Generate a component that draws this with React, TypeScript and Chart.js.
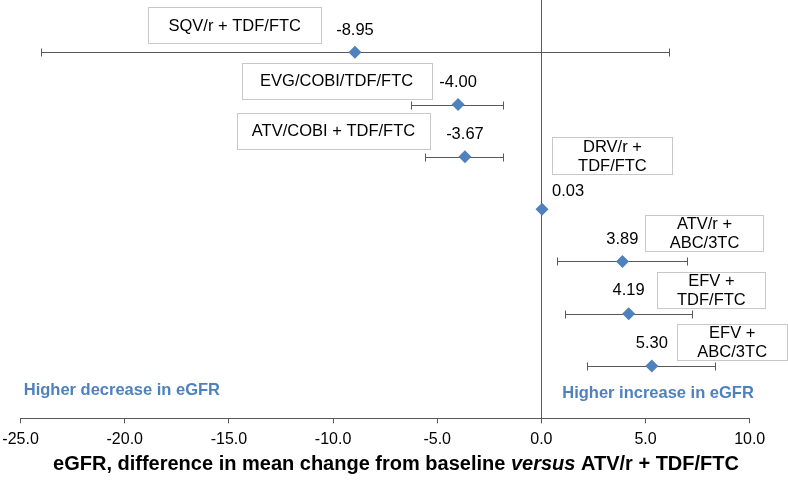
import { useEffect, useRef } from "react";
import { Chart, registerables } from "chart.js";

Chart.register(...registerables);

// ---------- data ----------
const regimens = [
  "SQV/r + TDF/FTC",
  "EVG/COBI/TDF/FTC",
  "ATV/COBI + TDF/FTC",
  "DRV/r + TDF/FTC",
  "ATV/r + ABC/3TC",
  "EFV + TDF/FTC",
  "EFV + ABC/3TC",
];
const regimenBoxLines = [
  ["SQV/r + TDF/FTC"],
  ["EVG/COBI/TDF/FTC"],
  ["ATV/COBI + TDF/FTC"],
  ["DRV/r +", "TDF/FTC"],
  ["ATV/r +", "ABC/3TC"],
  ["EFV +", "TDF/FTC"],
  ["EFV +", "ABC/3TC"],
];
const estimates = [-8.95, -4.0, -3.67, 0.03, 3.89, 4.19, 5.3];
const ciLower: (number | null)[] = [-24.0, -6.24, -5.6, null, 0.75, 1.12, 2.2];
const ciUpper: (number | null)[] = [6.13, -1.82, -1.82, null, 6.99, 7.23, 8.35];
const rowPositions = [7, 6, 5, 4, 3, 2, 1];
const xMin = -25;
const xMax = 10;
const xStep = 5;
const xTitleParts = [
  { text: "eGFR, difference in mean change from baseline ", italic: false },
  { text: "versus", italic: true },
  { text: " ATV/r + TDF/FTC", italic: false },
];
const leftNote = "Higher decrease in eGFR";
const rightNote = "Higher increase in eGFR";

// ---------- layout / style ----------
const FONT = "'Liberation Sans', Arial, Helvetica, sans-serif";
const BLUE = "#4F81BD";
const AXIS_COLOR = "#595959";
const BOX_BORDER = "#C8C8C8";
// box centres in data units, sizes in px
const boxLayout = [
  { cx: -14.72, cy: 7.52, w: 173, h: 36 },
  { cx: -9.83, cy: 6.46, w: 190, h: 36 },
  { cx: -9.98, cy: 5.5, w: 193, h: 36 },
  { cx: 3.41, cy: 5.02, w: 120, h: 37 },
  { cx: 7.83, cy: 3.54, w: 118, h: 36 },
  { cx: 8.16, cy: 2.46, w: 108, h: 36 },
  { cx: 9.16, cy: 1.46, w: 110, h: 36 },
];
const valueLabelOffsets = [
  { dx: 0, dy: -21.5 },
  { dx: 0, dy: -22 },
  { dx: 0, dy: -22 },
  { dx: 26, dy: -17.5 },
  { dx: 0, dy: -22 },
  { dx: 0, dy: -23 },
  { dx: 0, dy: -23 },
];
const notes = [
  { text: leftNote, x: -24.85, y: 0.54, align: "left" as CanvasTextAlign },
  { text: rightNote, x: 10.2, y: 0.48, align: "right" as CanvasTextAlign },
];

const forestPlugin = {
  id: "forestExtras",
  beforeDatasetsDraw(chart: any) {
    const { ctx, chartArea, scales } = chart;
    const x = scales.x;
    const y = scales.y;
    ctx.save();
    ctx.strokeStyle = AXIS_COLOR;
    ctx.lineWidth = 1;
    // zero reference line
    const x0 = Math.round(x.getPixelForValue(0)) + 0.5;
    ctx.beginPath();
    ctx.moveTo(x0, chartArea.top);
    ctx.lineTo(x0, chartArea.bottom);
    ctx.stroke();
    // confidence intervals
    estimates.forEach((_, i) => {
      const lo = ciLower[i];
      const hi = ciUpper[i];
      if (lo == null || hi == null) return;
      const py = Math.round(y.getPixelForValue(rowPositions[i])) + 0.5;
      const xl = Math.round(x.getPixelForValue(lo)) + 0.5;
      const xr = Math.round(x.getPixelForValue(hi)) + 0.5;
      ctx.beginPath();
      ctx.moveTo(xl, py);
      ctx.lineTo(xr, py);
      ctx.moveTo(xl, py - 4);
      ctx.lineTo(xl, py + 4);
      ctx.moveTo(xr, py - 4);
      ctx.lineTo(xr, py + 4);
      ctx.stroke();
    });
    ctx.restore();
  },
  afterDraw(chart: any) {
    const { ctx, scales } = chart;
    const x = scales.x;
    const y = scales.y;
    ctx.save();
    // value labels
    ctx.font = `16.5px ${FONT}`;
    ctx.fillStyle = "#000";
    ctx.textAlign = "center";
    ctx.textBaseline = "middle";
    estimates.forEach((v, i) => {
      const px = x.getPixelForValue(v) + valueLabelOffsets[i].dx;
      const py = y.getPixelForValue(rowPositions[i]) + valueLabelOffsets[i].dy;
      ctx.fillText(v.toFixed(2), px, py);
    });
    // regimen boxes
    regimenBoxLines.forEach((lines, i) => {
      const b = boxLayout[i];
      const cx = x.getPixelForValue(b.cx);
      const cy = y.getPixelForValue(b.cy);
      const left = Math.round(cx - b.w / 2) + 0.5;
      const top = Math.round(cy - b.h / 2) + 0.5;
      ctx.fillStyle = "#fff";
      ctx.fillRect(left, top, b.w, b.h);
      ctx.strokeStyle = BOX_BORDER;
      ctx.lineWidth = 1;
      ctx.strokeRect(left, top, b.w, b.h);
      ctx.fillStyle = "#000";
      const lh = 19;
      lines.forEach((ln, k) => {
        const ty = cy + 1 + (k - (lines.length - 1) / 2) * lh;
        ctx.fillText(ln, cx, ty);
      });
    });
    // direction notes
    ctx.font = `bold 16.5px ${FONT}`;
    ctx.fillStyle = BLUE;
    notes.forEach((n) => {
      ctx.textAlign = n.align;
      ctx.fillText(n.text, x.getPixelForValue(n.x), y.getPixelForValue(n.y));
    });
    // axis title with italic part
    const fonts = xTitleParts.map((p) => `${p.italic ? "italic " : ""}bold 20px ${FONT}`);
    let total = 0;
    const widths = xTitleParts.map((p, i) => {
      ctx.font = fonts[i];
      const w = ctx.measureText(p.text).width;
      total += w;
      return w;
    });
    let tx = 396 - total / 2;
    ctx.fillStyle = "#000";
    ctx.textAlign = "left";
    ctx.textBaseline = "middle";
    xTitleParts.forEach((p, i) => {
      ctx.font = fonts[i];
      ctx.fillText(p.text, tx, 464);
      tx += widths[i];
    });
    ctx.restore();
  },
};

export default function App() {
  const ref = useRef<HTMLCanvasElement | null>(null);
  useEffect(() => {
    if (!ref.current) return;
    const chart = new Chart(ref.current, {
      type: "scatter",
      data: {
        labels: regimens,
        datasets: [
          {
            label: "Difference in mean eGFR change",
            data: estimates.map((v, i) => ({ x: v, y: rowPositions[i] })),
            pointStyle: "rectRot",
            pointRadius: 6.5,
            pointHoverRadius: 6.5,
            backgroundColor: BLUE,
            borderColor: BLUE,
            borderWidth: 0,
            showLine: false,
            clip: false,
          },
        ],
      },
      options: {
        responsive: false,
        animation: false,
        layout: { autoPadding: false, padding: { left: 20.6, right: 38.3, top: 0, bottom: 0 } },
        plugins: {
          legend: { display: false },
          tooltip: { enabled: false },
        },
        scales: {
          x: {
            type: "linear",
            min: xMin,
            max: xMax,
            ticks: {
              stepSize: xStep,
              callback: (v: any) => Number(v).toFixed(1),
              font: { family: FONT, size: 16 },
              color: "#000",
              padding: 7,
              maxRotation: 0,
            },
            grid: {
              drawOnChartArea: false,
              drawTicks: true,
              tickLength: 5,
              color: AXIS_COLOR,
            },
            border: { display: true, color: AXIS_COLOR, width: 1 },
            afterFit: (scale: any) => {
              scale.height = 61.7;
              scale.paddingLeft = 0;
              scale.paddingRight = 0;
            },
          },
          y: {
            type: "linear",
            min: 0,
            max: 8,
            display: false,
          },
        },
      },
      plugins: [forestPlugin],
    });
    return () => chart.destroy();
  }, []);
  return (
    <div style={{ position: "fixed", left: 0, top: 0, width: 788, height: 480, background: "#fff" }}>
      <canvas ref={ref} width={788} height={480} style={{ display: "block" }} />
    </div>
  );
}
